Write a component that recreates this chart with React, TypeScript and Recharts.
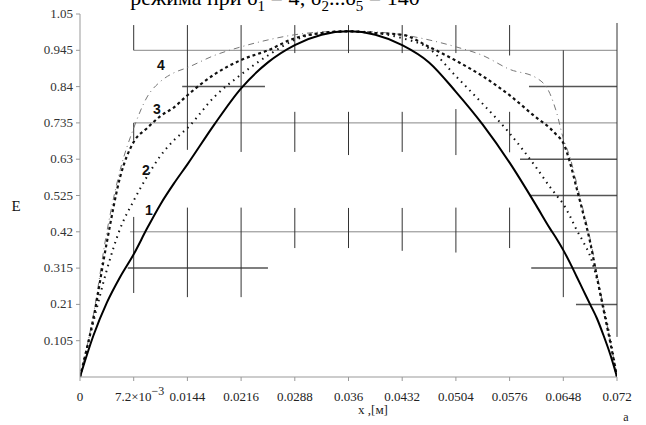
import { LineChart, Line, XAxis, YAxis, ReferenceLine, ReferenceDot } from 'recharts';

// x, [м]
const xs = [
  0, 0.0018, 0.0036, 0.0054, 0.0072, 0.009, 0.0108, 0.0126, 0.0144, 0.018, 0.0216, 0.0252, 0.0288, 0.0324,
  0.036, 0.0396, 0.0432, 0.0468, 0.0504, 0.054, 0.0576, 0.0612, 0.063, 0.0639, 0.0648, 0.0657, 0.0666,
  0.0675, 0.0684, 0.0693, 0.0702, 0.0711, 0.072,
];

const e1 = [
  0, 0.12, 0.215, 0.29, 0.355, 0.43, 0.5, 0.56, 0.615, 0.73, 0.835, 0.91, 0.96, 0.99,
  1.0, 0.99, 0.96, 0.91, 0.825, 0.73, 0.62, 0.495, 0.43, 0.4, 0.367, 0.33, 0.29,
  0.25, 0.21, 0.17, 0.12, 0.065, 0,
];

const e2 = [
  0, 0.16, 0.31, 0.43, 0.51, 0.58, 0.64, 0.685, 0.72, 0.81, 0.875, 0.93, 0.975, 0.995,
  1.0, 0.995, 0.98, 0.95, 0.87, 0.79, 0.705, 0.605, 0.55, 0.525, 0.5, 0.465, 0.425,
  0.39, 0.35, 0.285, 0.2, 0.11, 0,
];

const e3 = [
  0, 0.17, 0.39, 0.58, 0.68, 0.72, 0.755, 0.78, 0.815, 0.875, 0.917, 0.945, 0.98, 0.995,
  1.0, 0.995, 0.99, 0.955, 0.915, 0.87, 0.815, 0.75, 0.72, 0.7, 0.677, 0.62, 0.545,
  0.47, 0.39, 0.29, 0.194, 0.1, 0,
];

const e4 = [
  0, 0.18, 0.42, 0.6, 0.72, 0.81, 0.855, 0.88, 0.895, 0.93, 0.955, 0.975, 0.99, 0.998,
  1.0, 0.998, 0.99, 0.975, 0.955, 0.93, 0.89, 0.865, 0.82, 0.765, 0.69, 0.635, 0.56,
  0.48, 0.4, 0.3, 0.2, 0.105, 0,
];

const xTicks = [0, 0.0072, 0.0144, 0.0216, 0.0288, 0.036, 0.0432, 0.0504, 0.0576, 0.0648, 0.072];
const xTickLabels = ['0', '7.2×10', '0.0144', '0.0216', '0.0288', '0.036', '0.0432', '0.0504', '0.0576', '0.0648', '0.072'];
const yTicks = [0.105, 0.21, 0.315, 0.42, 0.525, 0.63, 0.735, 0.84, 0.945, 1.05];
const yTickLabels = ['0.105', '0.21', '0.315', '0.42', '0.525', '0.63', '0.735', '0.84', '0.945', '1.05'];

// grid fragments of the Mathcad plot: [x1, y1, x2, y2]
const hSegments = [
  [0.0072, 0.945, 0.072, 0.945],
  [0.0137, 0.84, 0.0248, 0.84],
  [0.0602, 0.84, 0.072, 0.84],
  [0.0072, 0.735, 0.072, 0.735],
  [0.059, 0.63, 0.072, 0.63],
  [0.0603, 0.525, 0.072, 0.525],
  [0.0067, 0.42, 0.072, 0.42],
  [0.0064, 0.315, 0.0252, 0.315],
  [0.0605, 0.315, 0.072, 0.315],
  [0.0665, 0.21, 0.072, 0.21],
];
const vSegments = [
  [0.0072, 1.018, 0.0072, 0.945],
  [0.0072, 0.735, 0.0072, 0.685],
  [0.0072, 0.463, 0.0072, 0.243],
  [0.0144, 1.018, 0.0144, 0.657],
  [0.0144, 0.49, 0.0144, 0.231],
  [0.0216, 1.018, 0.0216, 0.651],
  [0.0216, 0.49, 0.0216, 0.231],
  [0.0288, 1.018, 0.0288, 0.937],
  [0.0288, 0.767, 0.0288, 0.651],
  [0.0288, 0.489, 0.0288, 0.373],
  [0.036, 1.018, 0.036, 0.937],
  [0.036, 0.767, 0.036, 0.642],
  [0.036, 0.489, 0.036, 0.373],
  [0.0432, 1.018, 0.0432, 0.937],
  [0.0432, 0.767, 0.0432, 0.651],
  [0.0432, 0.489, 0.0432, 0.365],
  [0.0504, 1.018, 0.0504, 0.937],
  [0.0504, 0.775, 0.0504, 0.642],
  [0.0504, 0.49, 0.0504, 0.36],
  [0.0576, 1.018, 0.0576, 0.93],
  [0.0576, 0.767, 0.0576, 0.65],
  [0.0576, 0.49, 0.0576, 0.373],
  [0.0648, 0.945, 0.0648, 0.231],
  [0.072, 1.024, 0.072, 0.116],
];

const curveLabels = [
  { name: '1', x: 0.00925, y: 0.483 },
  { name: '2', x: 0.00885, y: 0.599 },
  { name: '3', x: 0.01032, y: 0.775 },
  { name: '4', x: 0.01086, y: 0.902 },
];

const data = xs.map((x, i) => ({ x, e1: e1[i], e2: e2[i], e3: e3[i], e4: e4[i] }));

const serif = '"Liberation Serif", "DejaVu Serif", serif';

function XTick(props: any) {
  const { x, y, payload } = props;
  const i = xTicks.indexOf(payload.value);
  const label = i >= 0 ? xTickLabels[i] : String(payload.value);
  if (payload.value === 0.0072) {
    return (
      <text x={x + 6} y={y + 18} textAnchor="middle" fontFamily={serif} fontSize={13} fill="#222">
        {label}
        <tspan dy={-6} fontSize={12}>−3</tspan>
      </text>
    );
  }
  return (
    <text x={x} y={y + 18} textAnchor="middle" fontFamily={serif} fontSize={13} fill="#222">
      {label}
    </text>
  );
}

function YTick(props: any) {
  const { x, y, payload } = props;
  const i = yTicks.indexOf(payload.value);
  const label = i >= 0 ? yTickLabels[i] : String(payload.value);
  return (
    <text x={x - 1} y={y + 4} textAnchor="end" fontFamily={serif} fontSize={13} fill="#333">
      {label}
    </text>
  );
}

export default function App() {
  return (
    <div style={{ position: 'absolute', left: 0, top: 0, width: 646, height: 425, background: '#fff', overflow: 'hidden' }}>
      <LineChart width={646} height={425} data={data} margin={{ top: 14, right: 29, bottom: 18, left: 20 }}>
        <XAxis
          dataKey="x"
          type="number"
          domain={[0, 0.072]}
          ticks={xTicks}
          tick={<XTick />}
          tickSize={4}
          height={30}
          stroke="#999"
          interval={0}
          allowDataOverflow
        />
        <YAxis
          type="number"
          domain={[0, 1.05]}
          ticks={yTicks}
          tick={<YTick />}
          tickSize={4}
          width={60}
          stroke="#999"
          interval={0}
          allowDataOverflow
        />
        {hSegments.map((s, i) => (
          <ReferenceLine
            key={'h' + i}
            segment={[{ x: s[0], y: s[1] }, { x: s[2], y: s[3] }]}
            stroke={s[2] - s[0] > 0.03 ? '#888' : '#555'}
            strokeWidth={s[2] - s[0] > 0.03 ? 1 : 1.5}
            ifOverflow="visible"
          />
        ))}
        {vSegments.map((s, i) => (
          <ReferenceLine
            key={'v' + i}
            segment={[{ x: s[0], y: s[1] }, { x: s[2], y: s[3] }]}
            stroke="#333"
            strokeWidth={1}
            ifOverflow="visible"
          />
        ))}
        <Line
          type="monotone"
          dataKey="e4"
          stroke="#777"
          strokeWidth={1}
          strokeDasharray="6 4 1 4"
          dot={false}
          isAnimationActive={false}
        />
        <Line
          type="monotone"
          dataKey="e3"
          stroke="#111"
          strokeWidth={2.2}
          strokeDasharray="3 3"
          dot={false}
          isAnimationActive={false}
        />
        <Line
          type="monotone"
          dataKey="e2"
          stroke="#111"
          strokeWidth={2}
          strokeDasharray="1.5 4.5"
          dot={false}
          isAnimationActive={false}
        />
        <Line
          type="monotone"
          dataKey="e1"
          stroke="#000"
          strokeWidth={2}
          dot={false}
          isAnimationActive={false}
        />
        {curveLabels.map((c) => (
          <ReferenceDot
            key={c.name}
            x={c.x}
            y={c.y}
            r={0}
            stroke="none"
            fill="none"
            label={{
              value: c.name,
              position: 'center',
              fontFamily: 'Arial, "Liberation Sans", sans-serif',
              fontWeight: 'bold',
              fontSize: 14,
              fill: '#111',
            }}
          />
        ))}
      </LineChart>
      <svg width={646} height={425} style={{ position: 'absolute', left: 0, top: 0, pointerEvents: 'none' }}>
        <text x={275} y={5} textAnchor="middle" fontFamily={serif} fontSize={22} fill="#000">
          режима при δ<tspan dy={6} fontSize={15}>1</tspan>
          <tspan dy={-6}> = 4; δ</tspan>
          <tspan dy={6} fontSize={15}>2</tspan>
          <tspan dy={-6}>...δ</tspan>
          <tspan dy={6} fontSize={15}>5</tspan>
          <tspan dy={-6}> = 140</tspan>
        </text>
        <text x={16} y={211} textAnchor="middle" fontFamily={serif} fontSize={15} fill="#111">E</text>
        <text x={373} y={414} textAnchor="middle" fontFamily={serif} fontSize={13} fill="#222">x ,[м]</text>
        <text x={626} y={421} textAnchor="middle" fontFamily={serif} fontSize={12} fill="#222">a</text>
      </svg>
    </div>
  );
}
